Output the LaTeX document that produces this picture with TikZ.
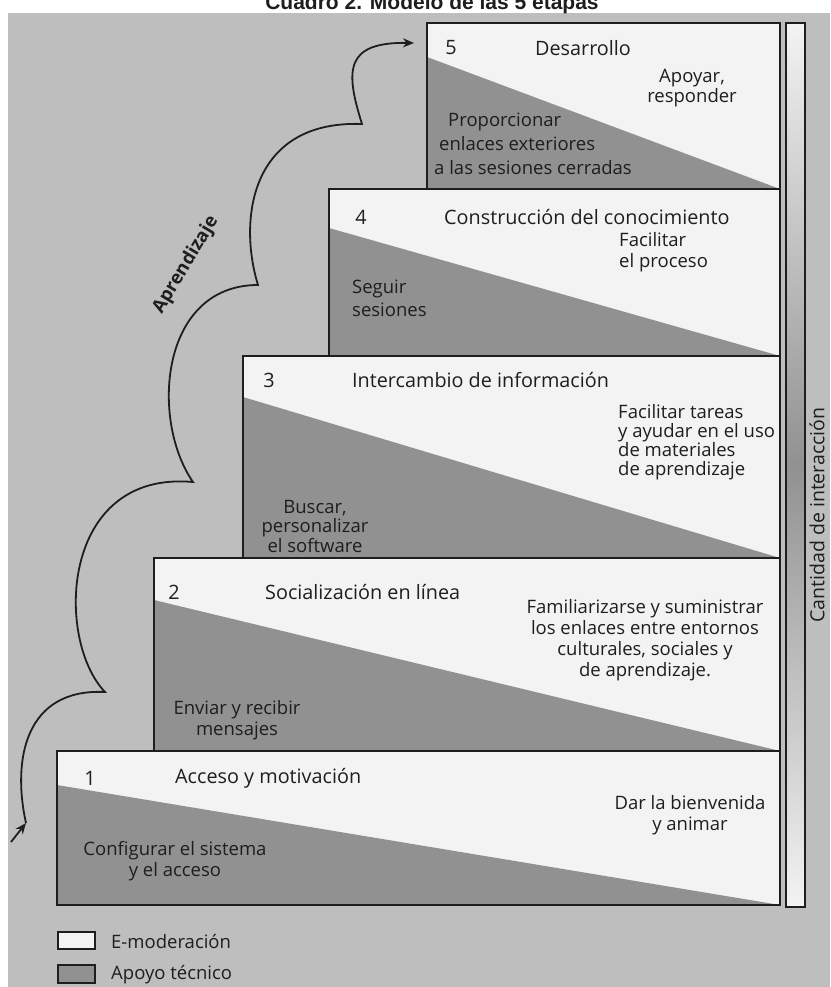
\documentclass[tikz,border=0pt]{standalone}
\usepackage{fontspec}
\setmainfont{Open Sans}
\newfontfamily\titlefont{Liberation Sans}
\usetikzlibrary{arrows.meta}

\definecolor{bggray}{RGB}{190,190,190}
\definecolor{techgray}{RGB}{145,145,145}
\definecolor{panel}{RGB}{243,243,243}
\definecolor{ink}{RGB}{30,30,30}

\begin{document}
\begin{tikzpicture}
            [x=1pt,y=1pt,
             every node/.style={font=\fontsize{18.5}{21}\selectfont,text=ink,inner sep=0pt},
             stepline/.style={draw=ink,line width=2.2pt},
             techpart/.style={fill=techgray},
             heading/.style={anchor=west,font=\fontsize{19.8}{22}\selectfont},
             stepno/.style={font=\fontsize{19.8}{22}\selectfont},
             flow/.style={draw=ink,line width=1.8pt,-{Stealth[length=11pt,width=9pt]}}]
            \fill[white] (0,0) rectangle (830,-987);
            \useasboundingbox (0,0) rectangle (830,-987);
            \fill[bggray] (8,-13) rectangle (830,-987);
            \node[anchor=base,font=\titlefont\bfseries\fontsize{21}{24}\selectfont] (title) at (432,-10) {Cuadro 2. Modelo de las 5 etapas};
            % the five steps
            \fill[panel] (57,-751) rectangle (780,-905);
            \fill[techpart] (57,-785) -- (780,-905) -- (57,-905) -- cycle;
            \draw[stepline] (57,-751) rectangle (780,-905);
            \fill[panel] (154,-558) rectangle (780,-751);
            \fill[techpart] (154,-600) -- (780,-751) -- (154,-751) -- cycle;
            \draw[stepline] (154,-558) rectangle (780,-751);
            \fill[panel] (243,-356) rectangle (780,-558);
            \fill[techpart] (243,-397) -- (780,-558) -- (243,-558) -- cycle;
            \draw[stepline] (243,-356) rectangle (780,-558);
            \fill[panel] (329,-189) rectangle (780,-356);
            \fill[techpart] (329,-228) -- (780,-356) -- (329,-356) -- cycle;
            \draw[stepline] (329,-189) rectangle (780,-356);
            \fill[panel] (427,-23) rectangle (780,-189);
            \fill[techpart] (427,-57) -- (780,-189) -- (427,-189) -- cycle;
            \draw[stepline] (427,-23) rectangle (780,-189);
            % step 1
            \node[stepno] (n1) at (90,-778) {1};
            \node[heading] (t1) at (175,-778) {Acceso y motivación};
            \node[align=center] (e1) at (690,-815) {Dar la bienvenida\\y animar};
            \node[align=center] (s1) at (175,-861) {Configurar el sistema\\y el acceso};
            % step 2
            \node[stepno] (n2) at (174,-592) {2};
            \node[heading] (t2) at (265,-592) {Socialización en línea};
            \node[align=center] (e2) at (645,-640) {Familiarizarse y suministrar\\los enlaces entre entornos\\culturales, sociales y\\de aprendizaje.};
            \node[align=center] (s2) at (237,-720) {Enviar y recibir\\mensajes};
            % step 3
            \node[stepno] (n3) at (269,-380) {3};
            \node[heading] (t3) at (352,-380) {Intercambio de información};
            \node[heading,align=left,font=\fontsize{18.5}{19}\selectfont] (e3) at (618,-442) {Facilitar tareas\\y ayudar en el uso\\de materiales\\de aprendizaje};
            \node[align=center,font=\fontsize{18.5}{19.5}\selectfont] (s3) at (315,-526) {Buscar,\\personalizar\\el software};
            % step 4
            \node[stepno] (n4) at (361,-217) {4};
            \node[heading] (t4) at (444,-217) {Construcción del conocimiento};
            \node[heading,align=left,font=\fontsize{18.5}{21}\selectfont] (e4) at (619,-252) {Facilitar\\el proceso};
            \node[heading,align=left,font=\fontsize{18.5}{23}\selectfont] (s4) at (352,-298) {Seguir\\sesiones};
            % step 5
            \node[stepno] (n5) at (451,-48) {5};
            \node[heading] (t5) at (535,-48) {Desarrollo};
            \node[align=center,font=\fontsize{18.5}{18}\selectfont] (e5) at (692,-88) {Apoyar,\\responder};
            \node[heading,align=left,font=\fontsize{18.5}{24}\selectfont] (s5) at (434,-144) {\hspace*{14pt}Proporcionar\\\hspace*{5pt}enlaces exteriores\\a las sesiones cerradas};
            % amount of interaction
            \shade[top color=panel,bottom color=panel,middle color=techgray] (786,-23) rectangle (805,-907);
            \draw[ink,line width=1.5pt] (786,-23) rectangle (805,-907);
            \node[rotate=90,font=\fontsize{19.5}{22}\selectfont] (amount) at (817,-515) {Cantidad de interacción};
            % learning curve
            \coordinate (tail) at (11,-842);
            \coordinate (c0) at (26,-823);
            \coordinate (c1) at (105,-692);
            \coordinate (c2) at (193,-482);
            \coordinate (c3) at (258,-285);
            \coordinate (c4) at (362,-124);
            \coordinate (tip) at (414,-43);
            \draw[flow] (tail) -- (c0);
            \draw[flow] (c0) .. controls (12,-760) and (25,-688) .. (c1)
                        .. controls (55,-640) and (60,-470) .. (c2)
                        .. controls (150,-420) and (160,-285) .. (c3)
                        .. controls (238,-220) and (250,-120) .. (c4)
                        .. controls (345,-70) and (345,-42) .. (tip);
            \node[rotate=59,font=\bfseries\fontsize{18.5}{21}\selectfont] (learn) at (186,-265) {Aprendizaje};
            % legend
            \draw[ink,line width=1.5pt,fill=panel] (58,-932) rectangle (95,-949);
            \draw[ink,line width=1.5pt,fill=techgray] (58,-965) rectangle (95,-983);
            \node[heading,font=\fontsize{18.5}{21}\selectfont] (l1) at (111,-941) {E-moderación};
            \node[heading,font=\fontsize{18.5}{21}\selectfont] (l2) at (111,-975) {Apoyo técnico};
        \end{tikzpicture}
\end{document}
